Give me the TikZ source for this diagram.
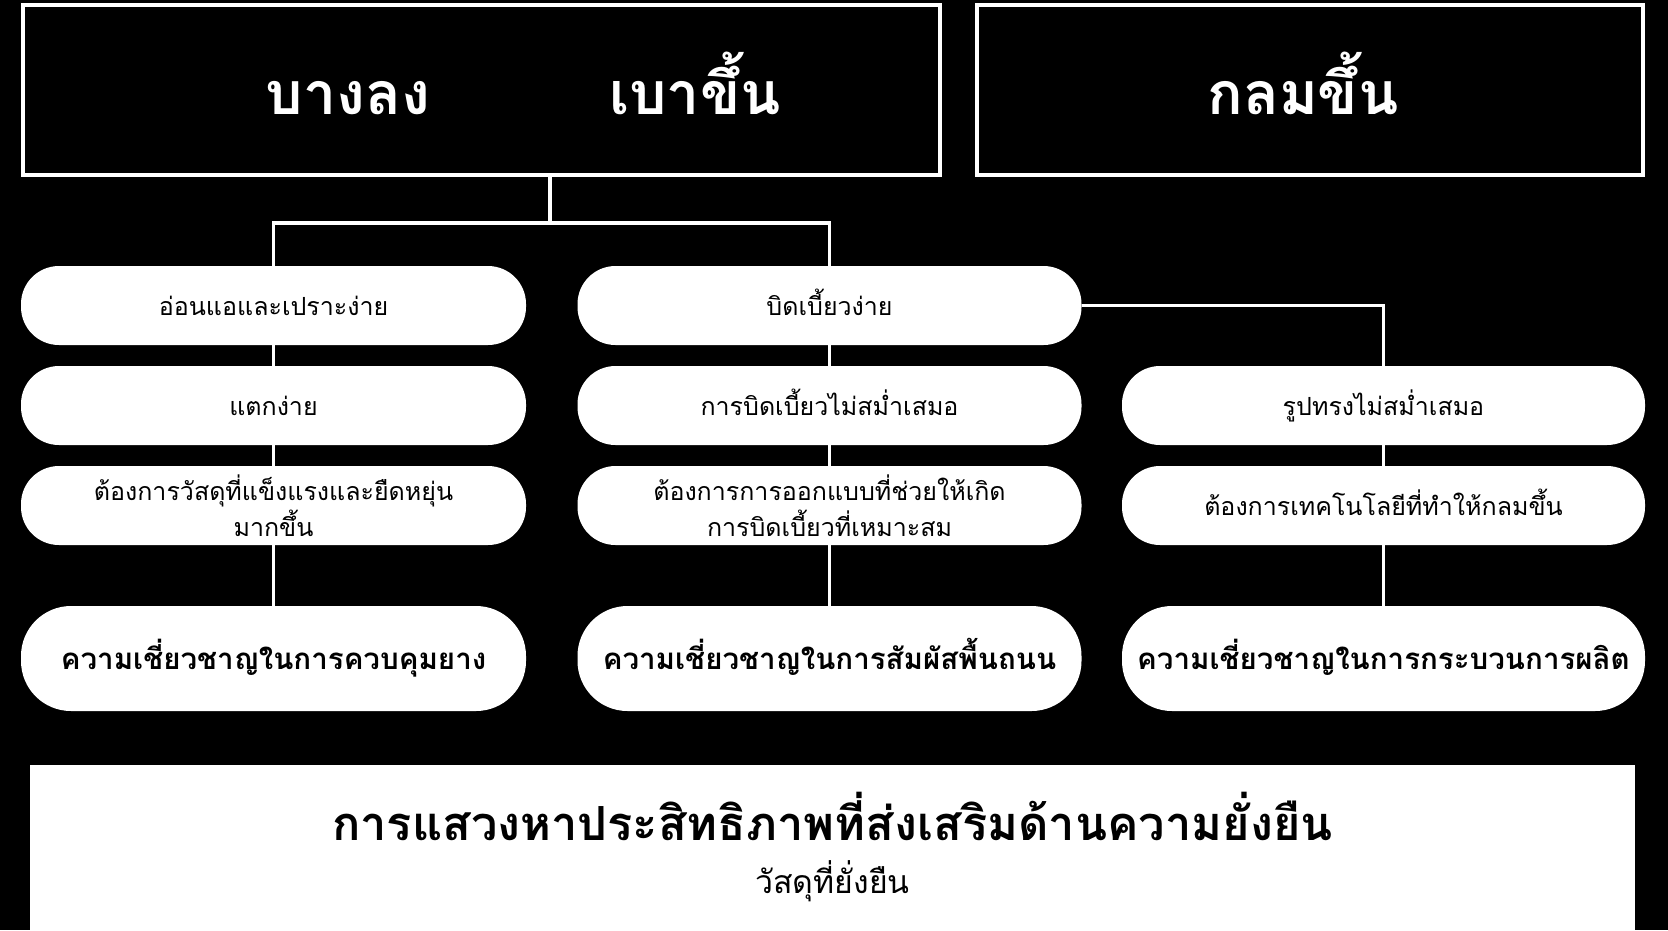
\documentclass[tikz,border=0pt]{standalone}
\usepackage{fontspec}
\newfontfamily\thaifont[Script=Thai]{Loma}
\begin{document}
\begin{tikzpicture}[x=1pt,y=-1pt,
  conn/.style={draw=white,line width=3.5pt},
  topbox/.style={draw=white,line width=3.5pt,fill=black,minimum height=170pt,inner sep=0pt},
  headtxt/.style={text=white,font=\thaifont\bfseries\fontsize{59}{64}\selectfont,inner sep=0pt,anchor=base},
  pill/.style={fill=white,rounded corners=38pt,minimum height=79pt,inner sep=0pt,
    font=\thaifont\fontsize{25}{36}\selectfont},
  oneline/.style={text height=19pt,text depth=0pt},
  twoline/.style={align=center},
  bigpill/.style={fill=white,rounded corners=50pt,minimum height=105pt,inner sep=0pt,
    font=\thaifont\bfseries\fontsize{29.5}{34}\selectfont,text height=23pt,text depth=1.5pt},
  colA/.style={minimum width=505pt},
  colB/.style={minimum width=504pt},
  colC/.style={minimum width=523pt}
]
\useasboundingbox (0,0) rectangle (1668,930);
\fill[black] (0,0) rectangle (1668,930);

% top boxes
\node[topbox,minimum width=917pt] (topL) at (481.5,90) {};
\node[topbox,minimum width=666pt] (topR) at (1310,90) {};
\node[headtxt] (hA) at (348,114) {บางลง};
\node[headtxt] (hB) at (695,114) {เบาขึ้น};
\node[headtxt] (hC) at (1303,114) {กลมขึ้น};

% column A
\node[pill,colA,oneline] (a1) at (273.5,305.5) {อ่อนแอและเปราะง่าย};
\node[pill,colA,oneline] (a2) at (273.5,405.5) {แตกง่าย};
\node[pill,colA,twoline] (a3) at (273.5,505.5) {ต้องการวัสดุที่แข็งแรงและยืดหยุ่น\\มากขึ้น};
\node[bigpill,colA] (a4) at (273.5,658.5) {ความเชี่ยวชาญในการควบคุมยาง};

% column B
\node[pill,colB,oneline] (b1) at (829.5,305.5) {บิดเบี้ยวง่าย};
\node[pill,colB,oneline] (b2) at (829.5,405.5) {การบิดเบี้ยวไม่สม่ำเสมอ};
\node[pill,colB,twoline] (b3) at (829.5,505.5) {ต้องการการออกแบบที่ช่วยให้เกิด\\การบิดเบี้ยวที่เหมาะสม};
\node[bigpill,colB] (b4) at (829.5,658.5) {ความเชี่ยวชาญในการสัมผัสพื้นถนน};

% column C
\node[pill,colC,oneline] (c2) at (1383.5,405.5) {รูปทรงไม่สม่ำเสมอ};
\node[pill,colC,oneline] (c3) at (1383.5,505.5) {ต้องการเทคโนโลยีที่ทำให้กลมขึ้น};
\node[bigpill,colC] (c4) at (1383.5,658.5) {ความเชี่ยวชาญในการกระบวนการผลิต};

% connectors
\coordinate (j) at (550,223);
\draw[conn] (topL.south -| j) -- (j);
\draw[conn] (a1.north) |- (j) -| (b1.north);
\draw[conn] (a1.south) -- (a2.north); \draw[conn] (a2.south) -- (a3.north); \draw[conn] (a3.south) -- (a4.north);
\draw[conn] (b1.south) -- (b2.north); \draw[conn] (b2.south) -- (b3.north); \draw[conn] (b3.south) -- (b4.north);
\draw[conn] (b1.east) -| (c2.north);
\draw[conn] (c2.south) -- (c3.north); \draw[conn] (c3.south) -- (c4.north);

% bottom panel
\node[fill=white,minimum width=1605pt,minimum height=166pt,inner sep=0pt] (panel) at (832.5,848) {};
\node[font=\thaifont\bfseries\fontsize{47}{52}\selectfont,inner sep=0pt,anchor=base] (title) at (832.5,840) {การแสวงหาประสิทธิภาพที่ส่งเสริมด้านความยั่งยืน};
\node[font=\thaifont\fontsize{32}{38}\selectfont,inner sep=0pt,anchor=base] (sub) at (832.5,893) {วัสดุที่ยั่งยืน};
\end{tikzpicture}
\end{document}
